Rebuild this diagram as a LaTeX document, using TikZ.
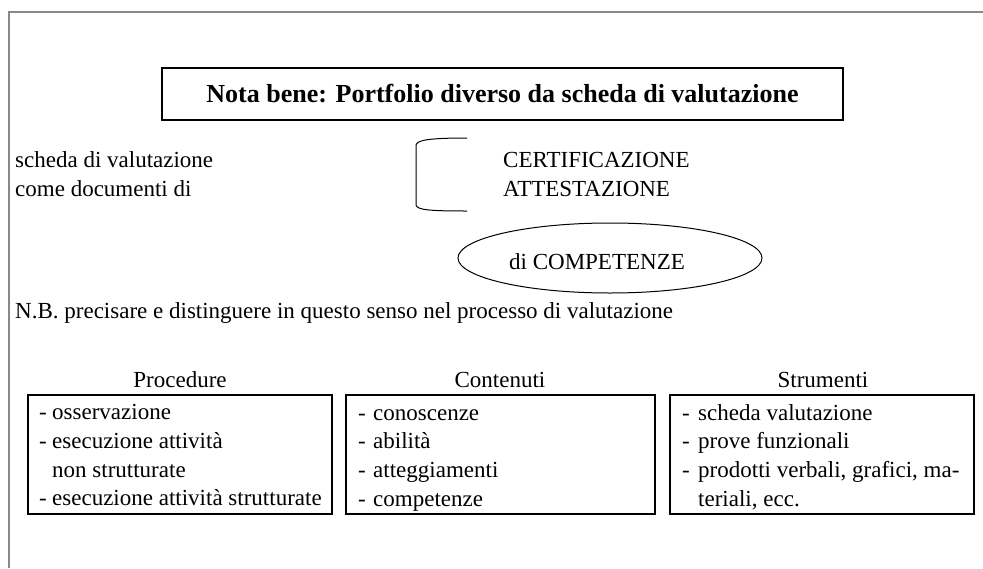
\documentclass[tikz,border=0pt]{standalone}
\usepackage{fontspec}
\setmainfont{Liberation Serif}
\usetikzlibrary{shapes.geometric}
\definecolor{framegray}{RGB}{136,136,136}
\tikzset{
  body/.style={font=\fontsize{23}{29}\selectfont, inner sep=0pt, anchor=base west},
  bodyc/.style={font=\fontsize{23}{29}\selectfont, inner sep=0pt, anchor=base},
  titlebox/.style={draw=black, line width=1.5pt, minimum width=681pt, minimum height=52pt, inner sep=0pt,
     font=\fontsize{26}{30}\selectfont\bfseries},
  listbox/.style={draw=black, line width=2pt, inner sep=0pt},
  oval/.style={draw=black, line width=1pt, ellipse, inner sep=0pt},
  framestyle/.style={draw=framegray, line width=2pt},
  thinline/.style={draw=black, line width=1pt},
}
\begin{document}
\begin{tikzpicture}[x=1pt,y=-1pt]
\useasboundingbox (0,0) rectangle (983,568);
% outer frame
\coordinate (fbl) at (9,568);
\coordinate (ftl) at (9,12);
\coordinate (ftr) at (983,12);
\draw[framestyle] (fbl) -- (ftl) -- (ftr);

% title
\node[titlebox] (title) at (502.5,94) {Nota bene: Portfolio diverso da scheda di valutazione};

% left text
\node[body] (sv) at (15,167) {scheda di valutazione};
\node[body] (cd) at (15,196) {come documenti di};

% bracket
\coordinate (btr) at (467,138);
\coordinate (btl) at (416,145);
\coordinate (bbl) at (416,205);
\coordinate (bbr) at (467,211);
\draw[thinline] (btr) .. controls (430,138) and (417,140) .. (btl) -- (bbl) .. controls (417,210) and (430,211) .. (bbr);

\node[body] (cert) at (503,167) {CERTIFICAZIONE};
\node[body] (att) at (503,196) {ATTESTAZIONE};

% ellipse
\node[oval, minimum width=304pt, minimum height=70pt] (comp) at (610,258) {};
\node[bodyc] (comptext) at (597,269) {di COMPETENZE};

% NB line
\node[body] (nb) at (15,318) {N.B. precisare e distinguere in questo senso nel processo di valutazione};

% headers
\node[bodyc] (hp) at (180,387) {Procedure};
\node[bodyc] (hc) at (500,387) {Contenuti};
\node[bodyc] (hs) at (823,387) {Strumenti};

% boxes
\node[listbox, minimum width=304pt, minimum height=119pt] (bp) at (180,454.5) {};
\node[listbox, minimum width=309pt, minimum height=119pt] (bc) at (500.5,454.5) {};
\node[listbox, minimum width=304pt, minimum height=119pt] (bs) at (822,454.5) {};

% Procedure list
\node[body] (pd1) at (39,419) {-};
\node[body] (pt1) at (52,419) {osservazione};
\node[body] (pd2) at (39,448) {-};
\node[body] (pt2) at (52,448) {esecuzione attività};
\node[body] (pt3) at (52,477) {non strutturate};
\node[body] (pd4) at (39,505) {-};
\node[body] (pt4) at (52,505) {esecuzione attività strutturate};

% Contenuti list
\node[body] (cd1) at (358,420) {-};
\node[body] (ct1) at (373,420) {conoscenze};
\node[body] (cd2) at (358,448) {-};
\node[body] (ct2) at (373,448) {abilità};
\node[body] (cd3) at (358,477) {-};
\node[body] (ct3) at (373,477) {atteggiamenti};
\node[body] (cd4) at (358,506) {-};
\node[body] (ct4) at (373,506) {competenze};

% Strumenti list
\node[body] (sd1) at (682,420) {-};
\node[body] (st1) at (698,420) {scheda valutazione};
\node[body] (sd2) at (682,448) {-};
\node[body] (st2) at (698,448) {prove funzionali};
\node[body] (sd3) at (682,477) {-};
\node[body] (st3) at (698,477) {prodotti verbali, grafici, ma-};
\node[body] (st4) at (698,506) {teriali, ecc.};
\end{tikzpicture}
\end{document}
